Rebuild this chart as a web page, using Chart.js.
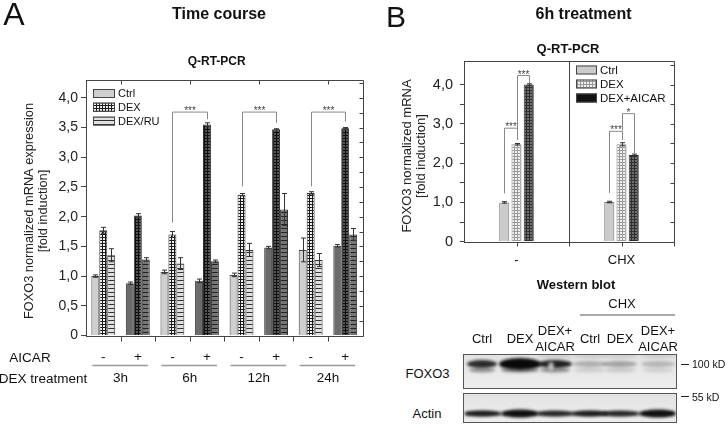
<!DOCTYPE html>
<html>
<head>
<meta charset="utf-8">
<script src="https://cdn.jsdelivr.net/npm/chart.js@4.4.1/dist/chart.umd.min.js"></script>
<style>
  body { margin: 0; width: 728px; height: 433px; background: #fff; position: relative; overflow: hidden;
         font-family: "Liberation Sans", Arial, sans-serif; color: #111; }
  .box { position: absolute; }
  .t { position: absolute; white-space: nowrap; transform: translate(-50%, -50%); line-height: 1; }
</style>
</head>
<body>
<div class="box" style="left:0;top:0;width:370px;height:400px"><canvas id="chartA"></canvas></div>
<div class="box" style="left:370px;top:0;width:358px;height:280px"><canvas id="chartB"></canvas></div>
<canvas id="blot" width="222" height="78" style="position:absolute;left:460px;top:350px"></canvas>
<div id="labels"></div>
<script>
// ---- panel A : time course ----
const aicarA = ["-", "+", "-", "+", "-", "+", "-", "+"];
const timesA = ["3h", "6h", "12h", "24h"];
const ctrlA = [1.00, 0.88, 1.07, 0.92, 1.02, 1.48, 1.44, 1.51];
const ctrlErrA = [0.02, 0.02, 0.03, 0.03, 0.03, 0.02, 0.20, 0.02];
const dexA = [1.77, 2.02, 1.70, 3.55, 2.37, 3.47, 2.40, 3.49];
const dexErrA = [0.05, 0.03, 0.05, 0.03, 0.02, 0.01, 0.02, 0.01];
const druA = [1.35, 1.28, 1.21, 1.25, 1.44, 2.12, 1.27, 1.70];
const druErrA = [0.11, 0.03, 0.10, 0.02, 0.11, 0.27, 0.11, 0.10];
// significance brackets (category index, value of legs / bar)
const sigA = [
  { from: 2, to: 3, low: 1.90, high: 3.76, end: 3.64, label: "***" },
  { from: 4, to: 5, low: 2.51, high: 3.76, end: 3.58, label: "***" },
  { from: 6, to: 7, low: 2.51, high: 3.76, end: 3.60, label: "***" },
];

// ---- panel B : 6h treatment ----
const catB = ["-", "CHX"];
const ctrlB = [1.00, 1.01];
const ctrlErrB = [0.02, 0.02];
const dexB = [2.48, 2.48];
const dexErrB = [0.02, 0.04];
const aicB = [4.00, 2.21];
const aicErrB = [0.02, 0.02];
const sigB = [
  { a: [0, 0], b: [0, 1], low: 1.23, high: 2.89, end: 2.59, label: "***" },
  { a: [0, 1], b: [0, 2], low: 2.59, high: 4.23, end: 4.04, label: "***" },
  { a: [1, 0], b: [1, 1], low: 1.24, high: 2.81, end: 2.59, label: "***" },
  { a: [1, 1], b: [1, 2], low: 2.83, high: 3.26, end: 2.25, label: "*" },
];

// western blot band intensities per lane
const lanes = ["Ctrl", "DEX", "DEX+AICAR", "Ctrl", "DEX", "DEX+AICAR"];
const foxoBand = [0.85, 1.0, 0.9, 0.25, 0.3, 0.22];
const actinBand = [0.85, 0.95, 0.75, 0.85, 0.75, 0.95];

const FONT = "Liberation Sans, Arial, sans-serif";
Chart.defaults.font.family = FONT;
Chart.defaults.color = "#222";

function pat(bg, fg, kind, step) {
  const c = document.createElement("canvas");
  c.width = step; c.height = step;
  const g = c.getContext("2d");
  g.fillStyle = bg; g.fillRect(0, 0, step, step);
  g.fillStyle = fg;
  g.fillRect(0, 0, step, 1);
  if (kind === "grid") g.fillRect(0, 0, 1, step);
  return g.createPattern(c, "repeat");
}

const ctrlMinus = "#cfcfcf", ctrlPlus = "#6b6b6b";
const dexMinus = pat("#f4f4f4", "#1a1a1a", "grid", 3);
const dexPlus = pat("#555", "#111", "grid", 3);
const druMinus = pat("#e0e0e0", "#333", "h", 4);
const druPlus = pat("#767676", "#222", "h", 4);
const alt = (a, b) => aicarA.map((s) => (s === "-" ? a : b));

const ctrlBc = "#cbcbcb";
const dexBc = pat("#efefef", "#9a9a9a", "grid", 3);
const aicBc = pat("#6e6e6e", "#2e2e2e", "grid", 3);

function line(ctx, x1, y1, x2, y2) {
  ctx.beginPath(); ctx.moveTo(x1, y1); ctx.lineTo(x2, y2); ctx.stroke();
}

function drawErr(chart, errs) {
  const ctx = chart.ctx, y = chart.scales.y;
  ctx.save();
  ctx.strokeStyle = "#333"; ctx.lineWidth = 1;
  chart.data.datasets.forEach((ds, di) => {
    chart.getDatasetMeta(di).data.forEach((bar, i) => {
      const e = errs[di][i];
      const v = ds.data[i];
      const t = y.getPixelForValue(v + e), b = y.getPixelForValue(v - e);
      const x = Math.round(bar.x) + 0.5;
      line(ctx, x, t, x, b);
      line(ctx, x - 2.5, t, x + 2.5, t);
      line(ctx, x - 2.5, b, x + 2.5, b);
    });
  });
  ctx.restore();
}

function drawBracket(chart, x1, x2, s) {
  const ctx = chart.ctx, y = chart.scales.y;
  const yl = y.getPixelForValue(s.low), yh = y.getPixelForValue(s.high), ye = y.getPixelForValue(s.end);
  ctx.save();
  ctx.strokeStyle = "#888"; ctx.lineWidth = 1;
  ctx.beginPath();
  ctx.moveTo(x1, yl); ctx.lineTo(x1, yh); ctx.lineTo(x2, yh); ctx.lineTo(x2, ye);
  ctx.stroke();
  ctx.fillStyle = "#444"; ctx.font = "10px " + FONT;
  ctx.textAlign = "center"; ctx.textBaseline = "alphabetic";
  ctx.fillText(s.label, (x1 + x2) / 2, yh + 2);
  ctx.restore();
}

function vTitle(ctx, lines, xs, cy, size) {
  ctx.save();
  ctx.fillStyle = "#222"; ctx.font = size + "px " + FONT;
  ctx.textAlign = "center"; ctx.textBaseline = "middle";
  lines.forEach((txt, i) => {
    ctx.save(); ctx.translate(xs[i], cy); ctx.rotate(-Math.PI / 2);
    ctx.fillText(txt, 0, 0); ctx.restore();
  });
  ctx.restore();
}

function legendBox(ctx, x, y, w, h, fill, label, size) {
  ctx.fillStyle = fill; ctx.fillRect(x, y, w, h);
  ctx.strokeStyle = "#444"; ctx.lineWidth = 1; ctx.strokeRect(x + 0.5, y + 0.5, w - 1, h - 1);
  ctx.fillStyle = "#111"; ctx.font = size + "px " + FONT;
  ctx.textAlign = "left"; ctx.textBaseline = "middle";
  ctx.fillText(label, x + w + 3, y + h / 2 + 0.5);
}

const fmt = (v) => (v === 0 ? "0" : v.toFixed(1).replace(".", ","));

// ---------------- chart A ----------------
const plugA = {
  id: "plugA",
  afterDatasetsDraw(chart) {
    drawErr(chart, [ctrlErrA, dexErrA, druErrA]);
    sigA.forEach((s) => {
      const m = chart.getDatasetMeta(1).data;
      drawBracket(chart, Math.round(m[s.from].x) + 0.5, Math.round(m[s.to].x) + 0.5, s);
    });
  },
  afterDraw(chart) {
    const ctx = chart.ctx, { left, right, top, bottom } = chart.chartArea;
    const x = chart.scales.x, y = chart.scales.y;
    ctx.save();
    ctx.strokeStyle = "#444"; ctx.lineWidth = 1;
    const r = Math.round(right) + 0.5, tp = Math.round(top) + 0.5, bt = Math.round(bottom) + 0.5;
    line(ctx, left, tp, r, tp);
    line(ctx, r, tp, r, bt);
    line(ctx, left, bt, r, bt);
    for (let v = 0.25; v < 4.3; v += 0.25) {
      const yy = Math.round(y.getPixelForValue(v)) + 0.5;
      line(ctx, r - 4, yy, r, yy);
    }
    for (let i = 0; i < aicarA.length - 1; i++) {
      const bx = Math.round((x.getPixelForValue(i) + x.getPixelForValue(i + 1)) / 2) + 0.5;
      line(ctx, bx, bt, bx, bt + 5);
      if (i % 2 === 0) line(ctx, bx, tp, bx, tp + 4);
    }
    // AICAR signs and DEX treatment rows
    ctx.fillStyle = "#111"; ctx.font = "13.5px " + FONT;
    ctx.textAlign = "center"; ctx.textBaseline = "middle";
    aicarA.forEach((s, i) => ctx.fillText(s, x.getPixelForValue(i), 357.5));
    ctx.strokeStyle = "#999"; ctx.lineWidth = 1.5;
    timesA.forEach((t, p) => {
      const x1 = x.getPixelForValue(2 * p), x2 = x.getPixelForValue(2 * p + 1);
      line(ctx, x1 - 11, 365.5, x2 + 10, 365.5);
      ctx.fillText(t, (x1 + x2) / 2, 378.5);
    });
    // legend
    const lx = left + 7;
    legendBox(ctx, lx, top + 9, 22, 9, ctrlMinus, "Ctrl", 11);
    legendBox(ctx, lx, top + 22.7, 22, 9, dexMinus, "DEX", 11);
    legendBox(ctx, lx, top + 36.7, 22, 9, druMinus, "DEX/RU", 11);
    vTitle(ctx, ["FOXO3 normalized mRNA expression", "[fold induction]"], [29, 43], 211, 12.8);
    ctx.restore();
  },
};

new Chart(document.getElementById("chartA"), {
  type: "bar",
  data: {
    labels: aicarA,
    datasets: [
      { label: "Ctrl", data: ctrlA, backgroundColor: alt(ctrlMinus, ctrlPlus), borderColor: "#444", borderWidth: 1 },
      { label: "DEX", data: dexA, backgroundColor: alt(dexMinus, dexPlus), borderColor: "#333", borderWidth: 1 },
      { label: "DEX/RU", data: druA, backgroundColor: alt(druMinus, druPlus), borderColor: "#333", borderWidth: 1 },
    ],
  },
  options: {
    responsive: true,
    maintainAspectRatio: false,
    animation: false,
    layout: { padding: { top: 80, right: 7.5, bottom: 64.5, left: 0 } },
    datasets: { bar: { categoryPercentage: 0.69, barPercentage: 1.0 } },
    plugins: { legend: { display: false }, tooltip: { enabled: false } },
    scales: {
      x: {
        grid: { display: false }, border: { display: false }, ticks: { display: false },
        afterFit: (s) => { s.height = 0; },
      },
      y: {
        min: 0, max: 4.3,
        afterFit: (s) => { s.width = 86; },
        afterBuildTicks: (s) => { s.ticks = s.ticks.filter((t) => t.value < 4.28); },
        ticks: {
          stepSize: 0.25, padding: 3, font: { size: 14 }, color: "#222",
          callback: (v) => (Math.abs(v * 2 - Math.round(v * 2)) > 1e-6 ? "" : fmt(v)),
        },
        grid: { drawOnChartArea: false, drawTicks: true, tickLength: 5, color: "#444" },
        border: { display: true, color: "#444" },
      },
    },
  },
  plugins: [plugA],
});

// ---------------- chart B ----------------
const plugB = {
  id: "plugB",
  afterDatasetsDraw(chart) {
    drawErr(chart, [ctrlErrB, dexErrB, aicErrB]);
    sigB.forEach((s) => {
      const xa = chart.getDatasetMeta(s.a[1]).data[s.a[0]].x;
      const xb = chart.getDatasetMeta(s.b[1]).data[s.b[0]].x;
      drawBracket(chart, Math.round(xa) + 0.5, Math.round(xb) + 0.5, s);
    });
  },
  afterDraw(chart) {
    const ctx = chart.ctx, { left, right, top, bottom } = chart.chartArea;
    const x = chart.scales.x, y = chart.scales.y;
    ctx.save();
    ctx.strokeStyle = "#444"; ctx.lineWidth = 1;
    const r = Math.round(right) + 0.5, tp = Math.round(top) + 0.5, bt = Math.round(bottom) + 0.5;
    line(ctx, left, tp, r, tp);
    line(ctx, r, tp, r, bt);
    line(ctx, left, bt, r, bt);
    const mid = Math.round((x.getPixelForValue(0) + x.getPixelForValue(1)) / 2) + 0.5;
    line(ctx, mid, tp, mid, bt + 4);
    line(ctx, r, bt, r, bt + 4);
    catB.forEach((c, i) => {
      const cx = Math.round(x.getPixelForValue(i)) + 0.5;
      line(ctx, cx, bt, cx, bt + 4);
    });
    for (let v = 0.5; v < 4.6; v += 0.5) {
      const yy = Math.round(y.getPixelForValue(v)) + 0.5;
      line(ctx, r - 4, yy, r, yy);
    }
    ctx.fillStyle = "#111"; ctx.font = "13px " + FONT;
    ctx.textAlign = "center"; ctx.textBaseline = "middle";
    catB.forEach((c, i) => ctx.fillText(c, x.getPixelForValue(i), 260));
    legendBox(ctx, 206, 65.5, 21, 9, ctrlBc, "Ctrl", 11.5);
    legendBox(ctx, 206, 79.5, 21, 9, dexBc, "DEX", 11.5);
    legendBox(ctx, 206, 93.5, 21, 9, "#111", "DEX+AICAR", 11.5);
    vTitle(ctx, ["FOXO3 normalized mRNA", "[fold induction]"], [37.7, 51.7], 156, 13);
    ctx.restore();
  },
};

new Chart(document.getElementById("chartB"), {
  type: "bar",
  data: {
    labels: catB,
    datasets: [
      { label: "Ctrl", data: ctrlB, backgroundColor: ctrlBc, borderColor: "#777", borderWidth: 1 },
      { label: "DEX", data: dexB, backgroundColor: dexBc, borderColor: "#888", borderWidth: 1 },
      { label: "DEX+AICAR", data: aicB, backgroundColor: aicBc, borderColor: "#333", borderWidth: 1 },
    ],
  },
  options: {
    responsive: true,
    maintainAspectRatio: false,
    animation: false,
    layout: { padding: { top: 61, right: 54, bottom: 38.3, left: 0 } },
    datasets: { bar: { categoryPercentage: 0.35, barPercentage: 0.82 } },
    plugins: { legend: { display: false }, tooltip: { enabled: false } },
    scales: {
      x: {
        grid: { display: false }, border: { display: false }, ticks: { display: false },
        afterFit: (s) => { s.height = 0; },
      },
      y: {
        min: 0, max: 4.6,
        afterFit: (s) => { s.width = 94; },
        afterBuildTicks: (s) => { s.ticks = s.ticks.filter((t) => t.value < 4.58); },
        ticks: {
          stepSize: 0.5, padding: 7, font: { size: 14.5 }, color: "#222",
          callback: (v) => (Number.isInteger(v) ? fmt(v) : ""),
        },
        grid: { drawOnChartArea: false, drawTicks: true, tickLength: 4, color: "#444" },
        border: { display: true, color: "#444" },
      },
    },
  },
  plugins: [plugB],
});

// ---------------- western blot ----------------
(function drawBlot() {
  const ctx = document.getElementById("blot").getContext("2d");
  const laneX = [22, 60, 95, 130, 160, 198];
  const boxes = [[3, 4, 214, 35], [3, 43, 214, 30]];
  boxes.forEach(([bx, by, bw, bh]) => {
    const g = ctx.createLinearGradient(0, by, 0, by + bh);
    g.addColorStop(0, "#e2e2e2"); g.addColorStop(1, "#eeeeee");
    ctx.fillStyle = g; ctx.fillRect(bx, by, bw, bh);
  });
  ctx.save();
  ctx.beginPath(); ctx.rect(3, 4, 214, 35); ctx.clip();
  ctx.filter = "blur(1.8px)";
  laneX.forEach((lx, i) => {
    const a = foxoBand[i];
    const w = i === 1 ? 21 : i === 0 ? 15 : 17;
    const h = i === 1 ? 6 : i < 3 ? 4 : 3;
    ctx.fillStyle = "rgba(10,10,10," + a + ")";
    ctx.beginPath(); ctx.ellipse(lx, 14, w, h, 0, 0, Math.PI * 2); ctx.fill();
    ctx.fillStyle = "rgba(30,30,30," + a * 0.5 + ")";
    ctx.beginPath(); ctx.ellipse(lx, 20, w - 2, 2.5, 0, 0, Math.PI * 2); ctx.fill();
    if (i >= 2) {
      ctx.fillStyle = "rgba(60,60,60,0.14)";
      ctx.beginPath(); ctx.ellipse(lx, 6, w, 2, 0, 0, Math.PI * 2); ctx.fill();
    }
  });
  ctx.fillStyle = "rgba(240,240,240,0.7)";
  ctx.beginPath(); ctx.ellipse(91, 16, 3, 4, 0, 0, Math.PI * 2); ctx.fill();
  ctx.restore();

  ctx.save();
  ctx.beginPath(); ctx.rect(3, 43, 214, 30); ctx.clip();
  ctx.filter = "blur(1.4px)";
  ctx.fillStyle = "rgba(20,20,20,0.6)";
  ctx.fillRect(6, 62, 208, 3.5);
  laneX.forEach((lx, i) => {
    const a = actinBand[i];
    ctx.fillStyle = "rgba(10,10,10," + a + ")";
    ctx.beginPath(); ctx.ellipse(lx, 63.5, 18, i === 1 || i === 5 ? 4 : 3, 0, 0, Math.PI * 2); ctx.fill();
  });
  ctx.restore();

  ctx.strokeStyle = "#555"; ctx.lineWidth = 1;
  boxes.forEach(([bx, by, bw, bh]) => ctx.strokeRect(bx + 0.5, by + 0.5, bw - 1, bh - 1));
})();

// ---------------- free text ----------------
const texts = [
  ["A", 14, 13.5, 32, false],
  ["Time course", 219, 13.5, 16, true],
  ["Q-RT-PCR", 216.7, 61, 12, true],
  ["AICAR", 30, 357.5, 13.5, false],
  ["DEX treatment", 43, 378.5, 13.5, false],
  ["B", 396, 16.5, 30, false],
  ["6h treatment", 583.5, 13.5, 16, true],
  ["Q-RT-PCR", 568, 48.3, 13, true],
  ["Western blot", 576, 284, 13, true],
  ["CHX", 622, 303, 13, false],
  ["Ctrl", 482, 338, 13, false],
  ["DEX", 520, 338, 13, false],
  ["DEX+", 555, 330, 13, false],
  ["AICAR", 555, 345.7, 13, false],
  ["Ctrl", 590, 338, 13, false],
  ["DEX", 620, 338, 13, false],
  ["DEX+", 658, 330, 13, false],
  ["AICAR", 658, 345.7, 13, false],
  ["FOXO3", 427.5, 373, 13, false],
  ["Actin", 427, 413, 13, false],
];
const holder = document.getElementById("labels");
texts.forEach(([s, x, y, size, bold]) => {
  const d = document.createElement("div");
  d.className = "t";
  d.textContent = s;
  d.style.left = x + "px"; d.style.top = y + "px";
  d.style.fontSize = size + "px";
  if (bold) d.style.fontWeight = "bold";
  holder.appendChild(d);
});
[["100 kD", 364.3], ["55 kD", 396.7]].forEach(([s, y]) => {
  const dash = document.createElement("div");
  dash.style.cssText = "position:absolute;left:681px;width:8px;height:1.5px;background:#222;top:" + (y - 0.75) + "px";
  holder.appendChild(dash);
  const d = document.createElement("div");
  d.className = "t";
  d.style.transform = "translate(0,-50%)";
  d.textContent = s;
  d.style.left = "692px"; d.style.top = y + "px"; d.style.fontSize = "10.5px";
  holder.appendChild(d);
});
const sep = document.createElement("div");
sep.style.cssText = "position:absolute;left:580px;top:314px;width:95px;height:2px;background:#aaa";
holder.appendChild(sep);
</script>
</body>
</html>
